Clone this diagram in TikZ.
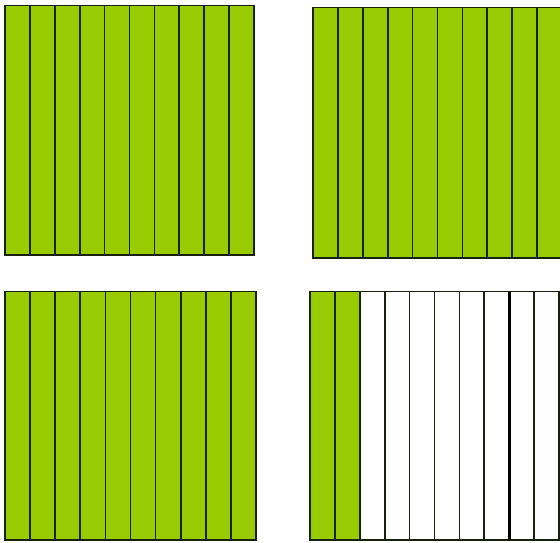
\documentclass[tikz,border=0pt]{standalone}
\definecolor{lime}{RGB}{153,204,0}
\definecolor{edgec}{RGB}{22,34,12}
\begin{document}
\begin{tikzpicture}[x=1pt,y=-1pt, stripline/.style={draw=edgec, line width=1.7pt, line cap=rect}]
\useasboundingbox (0,0) rectangle (560,542);
\fill[white] (0,0) rectangle (560,542);
\begin{scope}
\clip (0,0) rectangle (560,542);
\foreach \x/\y/\w/\h/\ng in {5/5.5/24.9/249.5/10, 313/7.5/24.9/250.5/10, 5/291.5/25.1/248.5/10, 310/291.5/24.9/248.5/2} {
  \fill[lime] (\x,\y) rectangle ({\x+\ng*\w},{\y+\h});
  \foreach \i in {0,...,10} {
    \draw[stripline] ({\x+\i*\w},\y) -- ({\x+\i*\w},{\y+\h});
  }
  \draw[stripline] (\x,\y) -- ({\x+10*\w},\y);
  \draw[stripline] (\x,{\y+\h}) -- ({\x+10*\w},{\y+\h});
}
\draw[draw=black, line width=3.2pt] ({310+8*24.9},291.5) -- ({310+8*24.9},540);
\end{scope}
\end{tikzpicture}
\end{document}
